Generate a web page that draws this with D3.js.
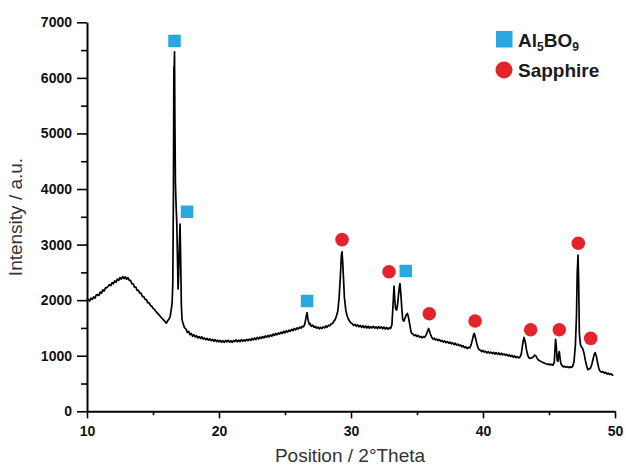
<!DOCTYPE html>
<html>
<head>
<meta charset="utf-8">
<script src="https://cdn.jsdelivr.net/npm/d3@7"></script>
<style>
  body { margin: 0; background: #fff; }
  svg { display: block; font-family: "Liberation Sans", Arial, sans-serif; }
  .axis path, .axis line { stroke: #000; }
  .axis path { stroke-width: 2; }
  .axis line { stroke-width: 1.6; }
  .axis text { font-size: 14px; font-weight: bold; fill: #111; }
  .title { font-size: 19px; fill: #333; }
  .legend-text { font-size: 19px; font-weight: bold; fill: #1a1a1a; }
</style>
</head>
<body>
<div id="chart"></div>
<script>
// ── Diffraction pattern (2θ, intensity) ────────────────────────────────────
const pattern = [
  [10.0,2000],[10.1,2015],[10.2,1985],[10.3,2035],[10.4,2015],[10.5,2060],[10.6,2035],[10.7,2090],
  [10.8,2100],[10.9,2085],[11.0,2145],[11.1,2125],[11.2,2185],[11.3,2165],[11.4,2220],[11.5,2225],
  [11.6,2250],[11.7,2280],[11.8,2260],[11.9,2315],[12.0,2295],[12.1,2345],[12.2,2325],[12.3,2380],
  [12.4,2355],[12.5,2405],[12.6,2380],[12.7,2425],[12.8,2390],[12.9,2420],[13.0,2375],[13.1,2405],
  [13.2,2355],[13.3,2355],[13.4,2295],[13.5,2295],[13.6,2235],[13.7,2235],[13.8,2175],[13.9,2175],
  [14.0,2125],[14.1,2125],[14.2,2065],[14.3,2065],[14.4,2015],[14.5,2010],[14.6,1955],[14.7,1955],
  [14.8,1905],[14.9,1895],[15.0,1855],[15.1,1835],[15.2,1805],[15.3,1775],[15.4,1750],[15.5,1725],
  [15.6,1695],[15.7,1670],[15.8,1645],[15.9,1615],[16.0,1585],[16.1,1625],[16.2,1655],[16.3,1705],
  [16.4,1860],[16.45,1950],[16.5,2300],[16.55,4000],[16.58,6200],[16.6,6100],[16.63,6470],[16.66,5200],
  [16.7,4100],[16.75,3700],[16.8,3400],[16.85,2800],[16.9,2200],[16.95,2500],[17.0,3000],[17.05,3370],
  [17.1,2700],[17.15,1900],[17.2,1650],[17.3,1560],[17.4,1500],[17.5,1480],[17.6,1420],[17.7,1440],
  [17.8,1380],[17.9,1400],[18.0,1350],[18.1,1380],[18.2,1340],[18.3,1360],[18.4,1320],[18.5,1345],
  [18.6,1310],[18.7,1340],[18.8,1300],[18.9,1320],[19.0,1290],[19.1,1310],[19.2,1280],[19.3,1305],
  [19.4,1270],[19.5,1295],[19.6,1260],[19.7,1290],[19.8,1255],[19.9,1280],[20.0,1250],[20.1,1275],
  [20.2,1245],[20.3,1270],[20.4,1240],[20.5,1275],[20.6,1250],[20.7,1280],[20.8,1245],[20.9,1270],
  [21.0,1240],[21.1,1275],[21.2,1255],[21.3,1285],[21.4,1250],[21.5,1280],[21.6,1255],[21.7,1290],
  [21.8,1260],[21.9,1285],[22.0,1265],[22.1,1295],[22.2,1270],[22.3,1300],[22.4,1275],[22.5,1310],
  [22.6,1285],[22.7,1320],[22.8,1290],[22.9,1330],[23.0,1300],[23.1,1335],[23.2,1310],[23.3,1345],
  [23.4,1320],[23.5,1355],[23.6,1330],[23.7,1365],[23.8,1340],[23.9,1375],[24.0,1350],[24.1,1390],
  [24.2,1365],[24.3,1400],[24.4,1375],[24.5,1410],[24.6,1390],[24.7,1425],[24.8,1400],[24.9,1440],
  [25.0,1410],[25.1,1450],[25.2,1425],[25.3,1460],[25.4,1440],[25.5,1475],[25.6,1450],[25.7,1490],
  [25.8,1465],[25.9,1500],[26.0,1480],[26.1,1515],[26.2,1495],[26.3,1530],[26.4,1520],[26.5,1570],
  [26.6,1700],[26.67,1775],[26.75,1640],[26.85,1560],[26.9,1580],[27.0,1530],[27.1,1550],[27.2,1510],
  [27.3,1530],[27.4,1495],[27.5,1515],[27.6,1485],[27.7,1510],[27.8,1490],[27.9,1520],[28.0,1500],
  [28.1,1535],[28.2,1515],[28.3,1550],[28.4,1540],[28.5,1575],[28.6,1580],[28.7,1620],[28.8,1650],
  [28.9,1720],[29.0,1800],[29.1,2050],[29.2,2450],[29.27,2800],[29.32,2870],[29.38,2650],[29.45,2300],
  [29.5,2050],[29.6,1830],[29.7,1720],[29.8,1660],[29.9,1620],[30.0,1590],[30.1,1575],[30.2,1545],
  [30.3,1565],[30.4,1530],[30.5,1555],[30.6,1520],[30.7,1545],[30.8,1510],[30.9,1540],[31.0,1505],
  [31.1,1535],[31.2,1500],[31.3,1530],[31.4,1495],[31.5,1525],[31.6,1500],[31.7,1530],[31.8,1495],
  [31.9,1520],[32.0,1490],[32.1,1525],[32.2,1495],[32.3,1520],[32.4,1485],[32.5,1515],[32.6,1480],
  [32.7,1510],[32.8,1475],[32.9,1505],[33.0,1490],[33.1,1560],[33.18,1900],[33.26,2255],[33.32,2000],
  [33.38,1850],[33.45,1820],[33.52,1900],[33.6,2100],[33.67,2250],[33.71,2300],[33.78,2100],[33.85,1850],
  [33.92,1650],[34.0,1620],[34.1,1680],[34.2,1740],[34.27,1760],[34.35,1700],[34.45,1560],[34.55,1430],
  [34.6,1400],[34.7,1390],[34.8,1360],[34.9,1375],[35.0,1345],[35.1,1365],[35.2,1330],[35.3,1350],
  [35.4,1320],[35.5,1345],[35.6,1335],[35.7,1380],[35.8,1440],[35.88,1490],[35.95,1440],[36.0,1400],
  [36.1,1340],[36.2,1300],[36.3,1315],[36.4,1285],[36.5,1300],[36.6,1270],[36.7,1290],[36.8,1260],
  [36.9,1275],[37.0,1245],[37.1,1265],[37.2,1235],[37.3,1255],[37.4,1225],[37.5,1245],[37.6,1215],
  [37.7,1235],[37.8,1200],[37.9,1225],[38.0,1190],[38.1,1210],[38.2,1180],[38.3,1195],[38.4,1160],
  [38.5,1180],[38.6,1145],[38.7,1160],[38.8,1130],[38.9,1150],[39.0,1140],[39.1,1200],[39.2,1290],
  [39.3,1390],[39.35,1400],[39.45,1300],[39.55,1200],[39.65,1130],[39.7,1110],[39.8,1100],[39.9,1075],
  [40.0,1095],[40.1,1065],[40.2,1080],[40.3,1050],[40.4,1075],[40.5,1045],[40.6,1065],[40.7,1040],
  [40.8,1060],[40.9,1030],[41.0,1055],[41.1,1025],[41.2,1050],[41.3,1020],[41.4,1045],[41.5,1015],
  [41.6,1035],[41.7,1005],[41.8,1025],[41.9,995],[42.0,1015],[42.1,985],[42.2,1005],[42.3,975],
  [42.4,995],[42.5,965],[42.6,985],[42.7,960],[42.8,975],[42.9,1030],[43.0,1200],[43.1,1330],
  [43.2,1250],[43.3,1100],[43.4,1000],[43.5,960],[43.6,950],[43.7,965],[43.8,975],[43.9,1010],
  [44.0,1000],[44.1,950],[44.2,925],[44.3,905],[44.4,900],[44.5,880],[44.6,875],[44.7,860],
  [44.8,855],[44.9,845],[45.0,850],[45.1,835],[45.2,845],[45.3,830],[45.4,880],[45.45,1100],
  [45.5,1295],[45.56,1150],[45.62,920],[45.68,900],[45.74,1040],[45.78,1075],[45.84,950],[45.9,860],
  [46.0,820],[46.1,800],[46.2,810],[46.3,790],[46.4,805],[46.5,785],[46.6,800],[46.7,790],
  [46.8,810],[46.9,900],[47.0,1200],[47.08,1700],[47.14,2500],[47.2,2810],[47.25,2300],[47.3,1400],
  [47.38,1200],[47.45,1160],[47.55,1130],[47.65,1050],[47.75,920],[47.85,820],[47.95,750],[48.05,760],
  [48.15,780],[48.25,850],[48.35,950],[48.45,1040],[48.5,1055],[48.6,980],[48.7,850],[48.8,750],
  [48.9,715],[49.0,700],[49.1,715],[49.2,685],[49.3,700],[49.4,670],[49.5,685],[49.6,660],
  [49.7,675],[49.8,650],[49.87,660]
];

// ── Phase markers ──────────────────────────────────────────────────────────
const al5bo9X = [16.63, 17.58, 26.67, 34.15];
const al5bo9Y = [6664, 3590, 1985, 2525];
const sapphireX = [29.32, 32.88, 35.93, 39.4, 43.61, 45.78, 47.22, 48.16];
const sapphireY = [3090, 2512, 1756, 1625, 1468, 1468, 3023, 1313];

// ── Ticks ──────────────────────────────────────────────────────────────────
const xMajor = [10, 20, 30, 40, 50];
const xMinor = [15, 25, 35, 45];
const yMajor = [0, 1000, 2000, 3000, 4000, 5000, 6000, 7000];
const yMinor = [500, 1500, 2500, 3500, 4500, 5500, 6500];

const BLUE = '#29a8df';
const RED = '#e4232a';

const W = 626, H = 467;
const svg = d3.select('#chart').append('svg')
  .attr('width', W)
  .attr('height', H);

const x = d3.scaleLinear().domain([10, 50]).range([87, 615]);
const y = d3.scaleLinear().domain([0, 7000]).range([411.3, 22.3]);

// minor ticks first (no labels)
svg.append('g')
  .attr('class', 'axis')
  .attr('transform', `translate(0,${y(0)})`)
  .call(d3.axisBottom(x).tickValues(xMinor).tickSize(4).tickSizeOuter(0).tickFormat(''))
  .call(g => g.select('.domain').remove());

svg.append('g')
  .attr('class', 'axis')
  .attr('transform', `translate(${x(10)},0)`)
  .call(d3.axisLeft(y).tickValues(yMinor).tickSize(6).tickSizeOuter(0).tickFormat(''))
  .call(g => g.select('.domain').remove());

// major axes
svg.append('g')
  .attr('class', 'axis')
  .attr('transform', `translate(0,${y(0)})`)
  .call(d3.axisBottom(x).tickValues(xMajor).tickSize(7).tickSizeOuter(0).tickPadding(8).tickFormat(d3.format('d')));

svg.append('g')
  .attr('class', 'axis')
  .attr('transform', `translate(${x(10)},0)`)
  .call(d3.axisLeft(y).tickValues(yMajor).tickSize(10).tickSizeOuter(0).tickPadding(5).tickFormat(d3.format('d')));

// ── Pattern line ───────────────────────────────────────────────────────────
const line = d3.line()
  .x(d => x(d[0]))
  .y(d => y(d[1]));

svg.append('path')
  .datum(pattern)
  .attr('fill', 'none')
  .attr('stroke', '#000')
  .attr('stroke-width', 1.7)
  .attr('stroke-linejoin', 'round')
  .attr('d', line);

// ── Markers ────────────────────────────────────────────────────────────────
const sq = 12.5;
svg.selectAll('rect.al5bo9')
  .data(al5bo9X.map((v, i) => [v, al5bo9Y[i]]))
  .enter().append('rect')
  .attr('class', 'al5bo9')
  .attr('x', d => x(d[0]) - sq / 2)
  .attr('y', d => y(d[1]) - sq / 2)
  .attr('width', sq)
  .attr('height', sq)
  .attr('fill', BLUE);

svg.selectAll('circle.sapphire')
  .data(sapphireX.map((v, i) => [v, sapphireY[i]]))
  .enter().append('circle')
  .attr('class', 'sapphire')
  .attr('cx', d => x(d[0]))
  .attr('cy', d => y(d[1]))
  .attr('r', 6.8)
  .attr('fill', RED);

// ── Legend ─────────────────────────────────────────────────────────────────
const legend = svg.append('g');
legend.append('rect')
  .attr('x', 496).attr('y', 31).attr('width', 16.5).attr('height', 16.5)
  .attr('fill', BLUE);
const t1 = legend.append('text')
  .attr('class', 'legend-text')
  .attr('x', 518).attr('y', 46.5);
t1.append('tspan').text('Al');
t1.append('tspan').attr('font-size', '12px').attr('dy', 4).text('5');
t1.append('tspan').attr('dy', -4).text('BO');
t1.append('tspan').attr('font-size', '12px').attr('dy', 4).text('9');

legend.append('circle')
  .attr('cx', 504).attr('cy', 70).attr('r', 8.5)
  .attr('fill', RED);
legend.append('text')
  .attr('class', 'legend-text')
  .attr('x', 518).attr('y', 76.5)
  .text('Sapphire');

// ── Axis titles ────────────────────────────────────────────────────────────
svg.append('text')
  .attr('class', 'title')
  .attr('text-anchor', 'middle')
  .attr('x', 350).attr('y', 462)
  .text('Position / 2°Theta');

svg.append('text')
  .attr('class', 'title')
  .attr('text-anchor', 'middle')
  .attr('transform', 'translate(22,217) rotate(-90)')
  .text('Intensity / a.u.');
</script>
</body>
</html>
